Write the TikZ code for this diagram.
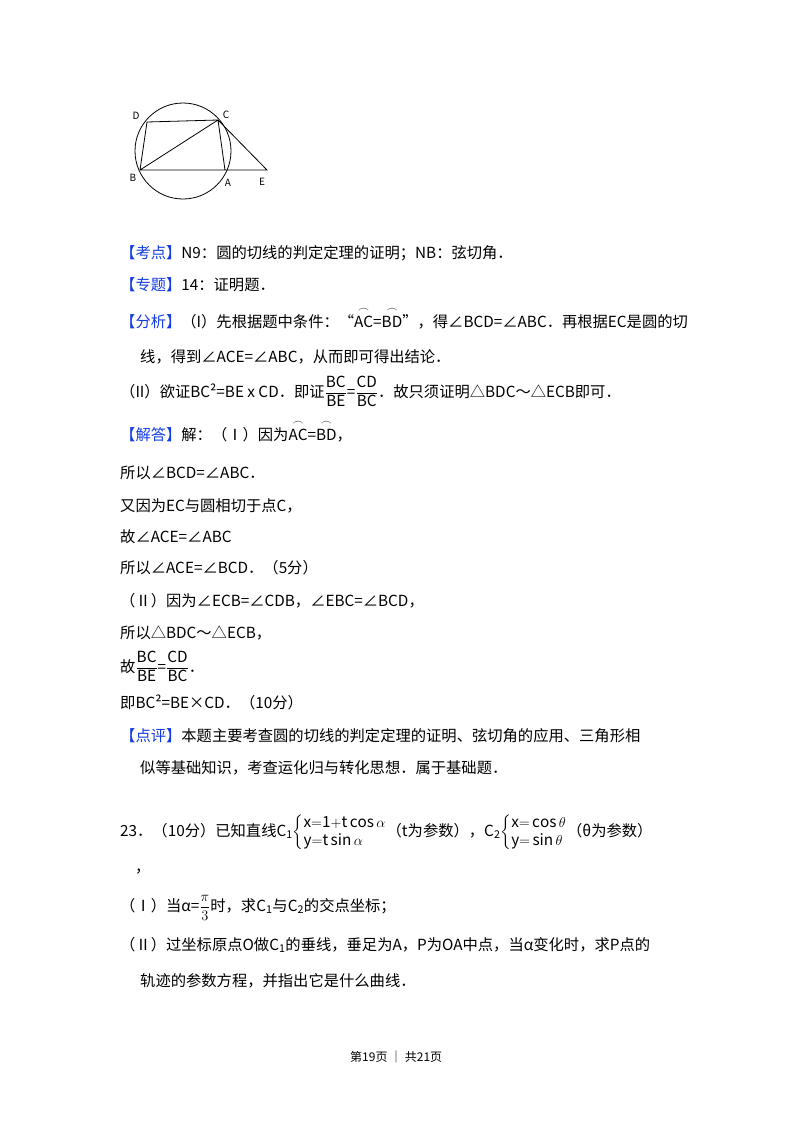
\documentclass[tikz,border=0pt]{standalone}
\usepackage{amsmath}
\usepackage{fontspec}
\setmainfont{Noto Sans CJK SC}
\definecolor{kblue}{RGB}{20,60,230}
\tikzset{t/.style={anchor=base west,inner sep=0pt,font=\fontsize{15.3}{18}\selectfont},
 lab/.style={font=\fontsize{10}{12}\rmfamily\selectfont,inner sep=0pt},
 geo/.style={line width=0.8pt}}
\newcommand{\kb}[1]{\textcolor{kblue}{【#1】}}
\newcommand{\myarc}[1]{\ensuremath{\overset{\frown}{\mathrm{#1}}}}
\newcommand{\fr}[2]{\ensuremath{\dfrac{\mathrm{#1}}{\mathrm{#2}}}}
\begin{document}
\begin{tikzpicture}[x=1pt,y=-1pt]
\useasboundingbox[fill=white] (0,0) rectangle (800,1133);
% figure
\node[draw,circle,geo,minimum size=96pt,inner sep=0pt] (o) at (183,151) {};
\coordinate (D) at (147,122); \coordinate (C) at (218,120);
\coordinate (B) at (140,170); \coordinate (A) at (225,170); \coordinate (E) at (267,170);
\draw[geo] (D)--(C)--(A) (B)--(D) (B)--(C) (B)--(E)--(C);
\node[lab] (lD) at (136,116) {D}; \node[lab] (lC) at (226,115) {C};
\node[lab] (lB) at (133,178) {B}; \node[lab] (lA) at (228,183) {A};
\node[lab] (lE) at (262,182) {E};
% text
\node[t] (l1) at (120,258) {\kb{考点}N9：圆的切线的判定定理的证明；NB：弦切角．};
\node[t] (l2) at (120,290) {\kb{专题}14：证明题．};
\node[t] (l3) at (120,327) {\kb{分析}（I）先根据题中条件：“\myarc{AC}=\myarc{BD}”，得∠BCD=∠ABC．再根据EC是圆的切};
\node[t] (l4) at (140,362) {线，得到∠ACE=∠ABC，从而即可得出结论．};
\node[t] (l5) at (120,397) {（II）欲证BC²=BE x CD．即证\fr{BC}{BE}=\fr{CD}{BC}．故只须证明△BDC～△ECB即可．};
\node[t] (l6) at (120,440) {\kb{解答}解：（Ⅰ）因为\myarc{AC}=\myarc{BD}，};
\node[t] (l7) at (120,478) {所以∠BCD=∠ABC．};
\node[t] (l8) at (120,511) {又因为EC与圆相切于点C，};
\node[t] (l9) at (120,542) {故∠ACE=∠ABC};
\node[t] (l10) at (120,573) {所以∠ACE=∠BCD．（5分）};
\node[t] (l11) at (120,606) {（Ⅱ）因为∠ECB=∠CDB，∠EBC=∠BCD，};
\node[t] (l12) at (120,638) {所以△BDC～△ECB，};
\node[t] (l13) at (120,672) {故\fr{BC}{BE}=\fr{CD}{BC}．};
\node[t] (l14) at (120,708) {即BC²=BE×CD．（10分）};
\node[t] (l15) at (120,741) {\kb{点评}本题主要考查圆的切线的判定定理的证明、弦切角的应用、三角形相};
\node[t] (l16) at (140,773) {似等基础知识，考查运化归与转化思想．属于基础题．};
\node[t] (l17) at (120,836) {23．（10分）已知直线C\textsubscript{1}$\left\{\begin{array}{@{}l@{}}\mathrm{x{=}1{+}t\cos\,}\alpha\\ \mathrm{y{=}t\sin\,}\alpha\end{array}\right.$（t为参数），C\textsubscript{2}$\left\{\begin{array}{@{}l@{}}\mathrm{x{=}\cos\,}\theta\\ \mathrm{y{=}\sin\,}\theta\end{array}\right.$（θ为参数）};
\node[t] (l18) at (135,872) {，};
\node[t] (l19) at (120,911) {（Ⅰ）当α=$\dfrac{\pi}{3}$时，求C\textsubscript{1}与C\textsubscript{2}的交点坐标；};
\node[t] (l20) at (120,950) {（Ⅱ）过坐标原点O做C\textsubscript{1}的垂线，垂足为A，P为OA中点，当α变化时，求P点的};
\node[t] (l21) at (140,986) {轨迹的参数方程，并指出它是什么曲线．};
\node[t,font=\fontsize{12}{14}\selectfont] (ft) at (350,1061) {第19页 ｜ 共21页};
\end{tikzpicture}
\end{document}
